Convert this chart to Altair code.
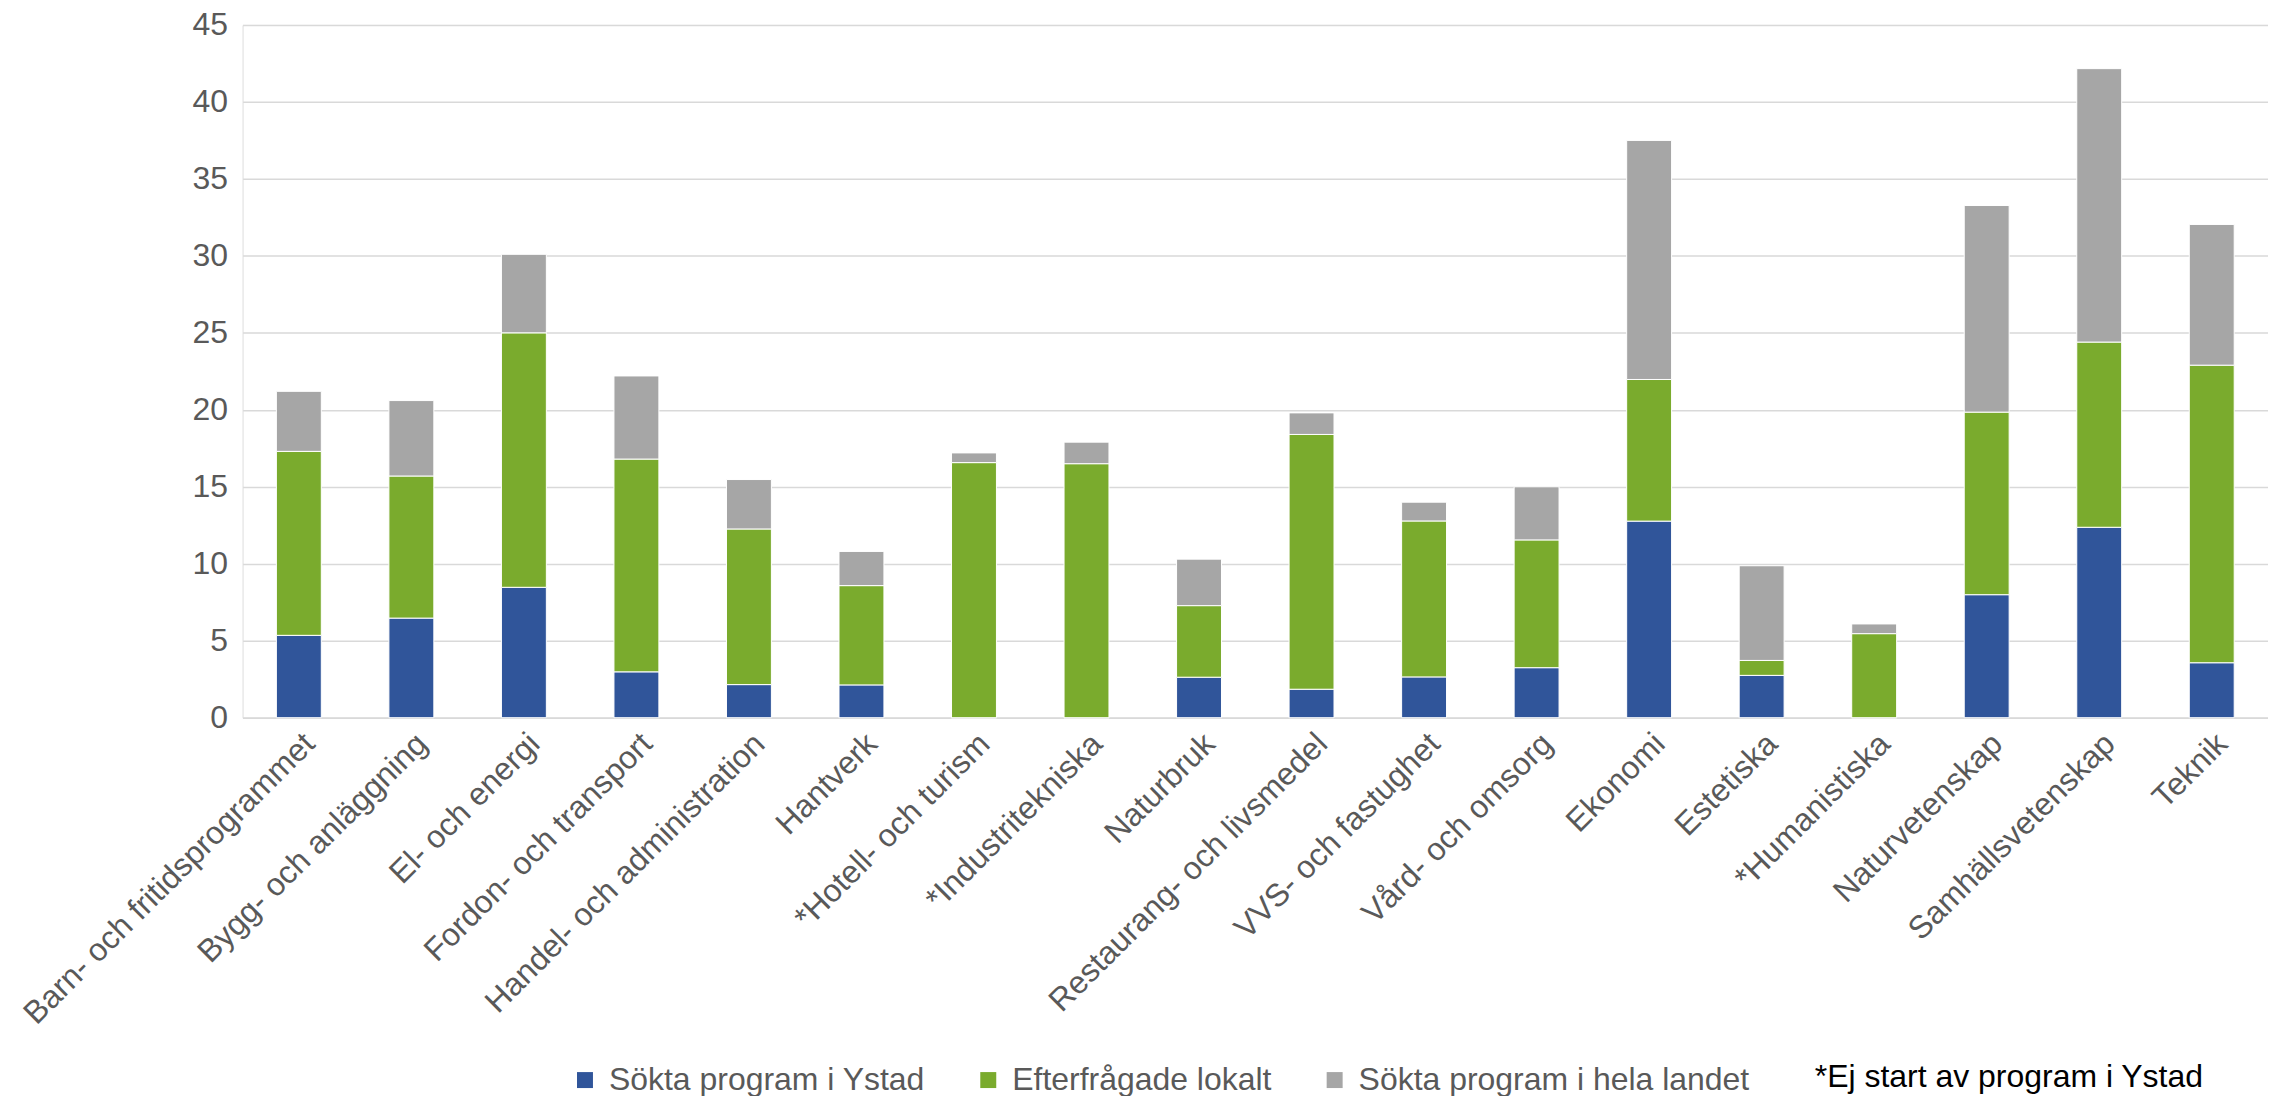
import altair as alt
import pandas as pd

categories = [
    "Barn- och fritidsprogrammet", "Bygg- och anläggning", "El- och energi",
    "Fordon- och transport", "Handel- och administration", "Hantverk",
    "*Hotell- och turism", "*Industritekniska", "Naturbruk",
    "Restaurang- och livsmedel", "VVS- och fastughet", "Vård- och omsorg",
    "Ekonomi", "Estetiska", "*Humanistiska", "Naturvetenskap",
    "Samhällsvetenskap", "Teknik",
]
sokta_ystad = [5.35, 6.47, 8.47, 2.98, 2.15, 2.13, 0, 0, 2.63, 1.85, 2.65, 3.25,
               12.77, 2.75, 0, 7.99, 12.37, 3.57]
efterfragade_lokalt = [11.95, 9.23, 16.53, 13.82, 10.11, 6.45, 16.57, 16.5, 4.65,
                       16.55, 10.13, 8.3, 9.2, 0.97, 5.46, 11.86, 12.03, 19.33]
sokta_landet = [3.9, 4.9, 5.1, 5.4, 3.21, 2.22, 0.63, 1.4, 3.02, 1.4, 1.22, 3.45,
                15.53, 6.15, 0.63, 13.42, 17.76, 9.14]

series = ["Sökta program i Ystad", "Efterfrågade lokalt", "Sökta program i hela landet"]
colors = ["#30559A", "#7AAB2D", "#A6A6A6"]
y_ticks = [0, 5, 10, 15, 20, 25, 30, 35, 40, 45]
note = "*Ej start av program i Ystad"

rows = []
for i, cat in enumerate(categories):
    for k, vals in enumerate([sokta_ystad, efterfragade_lokalt, sokta_landet]):
        rows.append({"Program": cat, "Serie": series[k], "Värde": vals[i], "ord": k})
df = pd.DataFrame(rows)

FONT = "Liberation Sans"

bars = alt.Chart(df).mark_bar(size=45, stroke="#ffffff", strokeWidth=1).encode(
    x=alt.X(
        "Program:N", sort=categories,
        scale=alt.Scale(paddingInner=0.0, paddingOuter=0.0),
        axis=alt.Axis(
            title=None, labelAngle=-45, labelFontSize=32, labelFont=FONT,
            labelColor="#595959", ticks=False, domainColor="#D9D9D9",
            domainWidth=1.5, labelPadding=10, labelLimit=1000,
        ),
    ),
    y=alt.Y(
        "Värde:Q", stack="zero",
        scale=alt.Scale(domain=[0, 45], nice=False),
        axis=alt.Axis(
            title=None, values=y_ticks, labelFontSize=32, labelFont=FONT,
            labelColor="#595959", ticks=False, domain=False,
            gridColor="#D9D9D9", gridWidth=1.5, labelPadding=15,
        ),
    ),
    color=alt.Color(
        "Serie:N",
        scale=alt.Scale(domain=series, range=colors),
        legend=alt.Legend(
            title=None, orient="none", direction="horizontal",
            legendX=327, legendY=1041, symbolType="square", symbolSize=256,
            symbolStrokeWidth=0, labelFontSize=32, labelFont=FONT,
            labelColor="#595959", columnPadding=47, labelOffset=8,
            labelLimit=1000,
        ),
    ),
    order=alt.Order("ord:Q"),
)

note_layer = alt.Chart(pd.DataFrame({"t": [note]})).mark_text(
    align="left", baseline="alphabetic", fontSize=32, font=FONT, color="#000000"
).encode(text="t:N", x=alt.value(1575), y=alt.value(1064))

chart = alt.layer(bars, note_layer).properties(
    width=2029, height=694,
    padding={"left": 235, "top": 16, "right": 0, "bottom": 378},
    autosize=alt.AutoSizeParams(type="none"),
).configure_view(stroke=None).configure(background="#ffffff")

chart.save("out.html", embed_options={"renderer": "svg", "actions": False})
